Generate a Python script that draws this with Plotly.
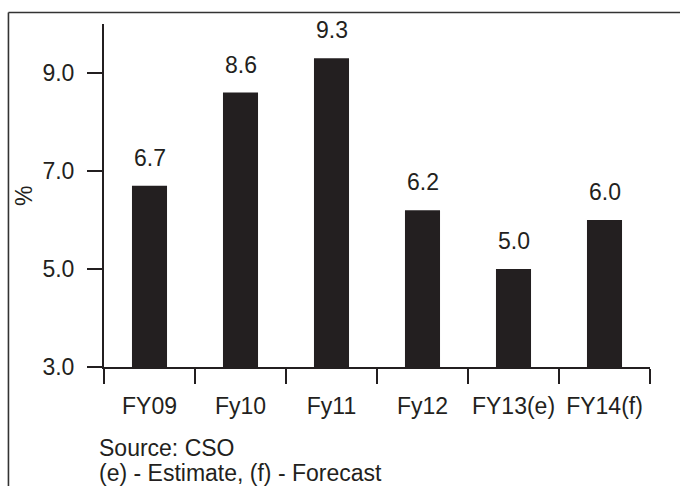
import plotly.graph_objects as go

# GDP growth by fiscal year
categories = ["FY09", "Fy10", "Fy11", "Fy12", "FY13(e)", "FY14(f)"]
growth = [6.7, 8.6, 9.3, 6.2, 5.0, 6.0]
y_ticks = [3.0, 5.0, 7.0, 9.0]

BAR = "#231f20"
INK = "#231f20"
FONT = "Liberation Sans, Arial, sans-serif"
SIZE = 23

fig = go.Figure(
    go.Bar(
        x=categories,
        y=growth,
        marker=dict(color=BAR, line=dict(width=0)),
        width=0.385,
        hoverinfo="skip",
    )
)

# value labels above each bar
for c, v in zip(categories, growth):
    fig.add_annotation(
        x=c, y=v, text=f"{v:.1f}", showarrow=False,
        xanchor="center", yanchor="middle", yshift=28,
        font=dict(family=FONT, size=SIZE, color=INK),
    )

# axis title
fig.add_annotation(
    xref="paper", yref="paper", x=-0.1465, y=0.4985,
    xanchor="center", yanchor="middle",
    text="%", textangle=-90, showarrow=False,
    font=dict(family=FONT, size=SIZE, color=INK),
)

# footnotes
fig.add_annotation(
    xref="paper", yref="paper", x=-0.012, y=-0.235,
    xanchor="left", yanchor="middle", text="Source: CSO", showarrow=False,
    font=dict(family=FONT, size=SIZE, color=INK),
)
fig.add_annotation(
    xref="paper", yref="paper", x=-0.012, y=-0.31,
    xanchor="left", yanchor="middle", text="(e) - Estimate, (f) - Forecast",
    showarrow=False, font=dict(family=FONT, size=SIZE, color=INK),
)

# frame lines (top and left)
fig.add_shape(type="line", xref="paper", yref="paper",
              x0=-0.175, x1=1.2, y0=1.0335, y1=1.0335,
              line=dict(color="#333333", width=1.6))
fig.add_shape(type="line", xref="paper", yref="paper",
              x0=-0.175, x1=-0.175, y0=1.0335, y1=-0.5,
              line=dict(color="#333333", width=1.6))

fig.update_layout(
    width=680, height=486,
    margin=dict(l=104, r=30, t=24, b=119),
    paper_bgcolor="white", plot_bgcolor="white",
    showlegend=False,
    font=dict(family=FONT, size=SIZE, color=INK),
    xaxis=dict(
        type="category",
        showline=True, linecolor=INK, linewidth=2,
        ticks="outside", tickson="boundaries", ticklen=15, tickwidth=1.5,
        tickcolor=INK, ticklabelstandoff=17, tickangle=0,
        showgrid=False, zeroline=False,
        tickfont=dict(family=FONT, size=SIZE, color=INK),
    ),
    yaxis=dict(
        range=[3.0, 10.0],
        tickvals=y_ticks, ticktext=[f"{t:.1f}" for t in y_ticks],
        showline=True, linecolor=INK, linewidth=2,
        ticks="outside", ticklen=15, tickwidth=2, tickcolor=INK,
        ticklabelstandoff=8,
        showgrid=False, zeroline=False,
        tickfont=dict(family=FONT, size=SIZE, color=INK),
    ),
)

fig.write_html("out.html")
